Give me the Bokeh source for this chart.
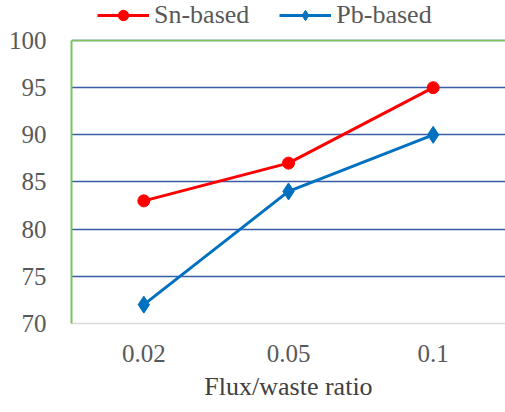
from bokeh.plotting import figure
from bokeh.models import FactorRange, Range1d, FixedTicker, Legend, LegendItem, Span
from bokeh.embed import file_html
from bokeh.resources import INLINE

categories = ["0.02", "0.05", "0.1"]
sn_values = [83, 87, 95]
pb_values = [72, 84, 90]
y_ticks = [70, 75, 80, 85, 90, 95, 100]
x_title = "Flux/waste ratio"

FONT = "Liberation Serif"

p = figure(width=505, height=412, x_range=FactorRange(*categories), y_range=Range1d(70, 104.24),
           output_backend="svg", toolbar_location=None,
           min_border_left=71, min_border_right=0, min_border_top=0, min_border_bottom=89)
p.outline_line_color = None
p.background_fill_color = "white"
p.border_fill_color = "white"

p.xgrid.grid_line_color = None
p.ygrid.ticker = FixedTicker(ticks=[75, 80, 85, 90, 95, 100])
p.ygrid.grid_line_color = "#3A5DA8"
p.ygrid.grid_line_width = 1.5

p.yaxis.ticker = FixedTicker(ticks=y_ticks)
p.yaxis.bounds = (70, 100)
p.yaxis.axis_line_color = "#7CC45A"
p.yaxis.axis_line_width = 2
p.yaxis.major_tick_line_color = None
p.yaxis.minor_tick_line_color = None
p.yaxis.major_label_standoff = 19
p.yaxis.major_label_text_font = FONT
p.yaxis.major_label_text_font_size = "25px"
p.yaxis.major_label_text_color = "#595959"

p.xaxis.axis_line_color = "#D9D9D9"
p.xaxis.axis_line_width = 1.5
p.xaxis.major_tick_line_color = None
p.xaxis.minor_tick_line_color = None
p.xaxis.major_label_standoff = 15
p.xaxis.major_label_text_font = FONT
p.xaxis.major_label_text_font_size = "25px"
p.xaxis.major_label_text_color = "#595959"
p.xaxis.axis_label = x_title
p.xaxis.axis_label_text_font = FONT
p.xaxis.axis_label_text_font_style = "normal"
p.xaxis.axis_label_text_font_size = "26px"
p.xaxis.axis_label_text_color = "#404040"
p.xaxis.axis_label_standoff = 7

top = Span(location=100, dimension="width", line_color="#7CC45A", line_width=1.5)
p.add_layout(top)

l1 = p.line(categories, sn_values, line_color="#FF0000", line_width=3)
s1 = p.scatter(categories, sn_values, marker="circle", size=12, fill_color="#FF0000", line_color="#FF0000")
l2 = p.line(categories, pb_values, line_color="#0070C0", line_width=3)
s2 = p.scatter(categories, pb_values, marker="diamond", size=17, fill_color="#0070C0", line_color="#0070C0")

legend = Legend(items=[LegendItem(label="Sn-based", renderers=[l1, s1]),
                       LegendItem(label="Pb-based", renderers=[l2, s2])],
                orientation="horizontal", location=(26, 293),
                padding=0, margin=0, spacing=30, glyph_width=52, glyph_height=26,
                label_standoff=5, border_line_color=None, background_fill_alpha=0,
                label_text_font=FONT, label_text_font_size="26px",
                label_text_color="#595959")
p.add_layout(legend, "center")

open("out.html", "w").write(file_html(p, INLINE))
